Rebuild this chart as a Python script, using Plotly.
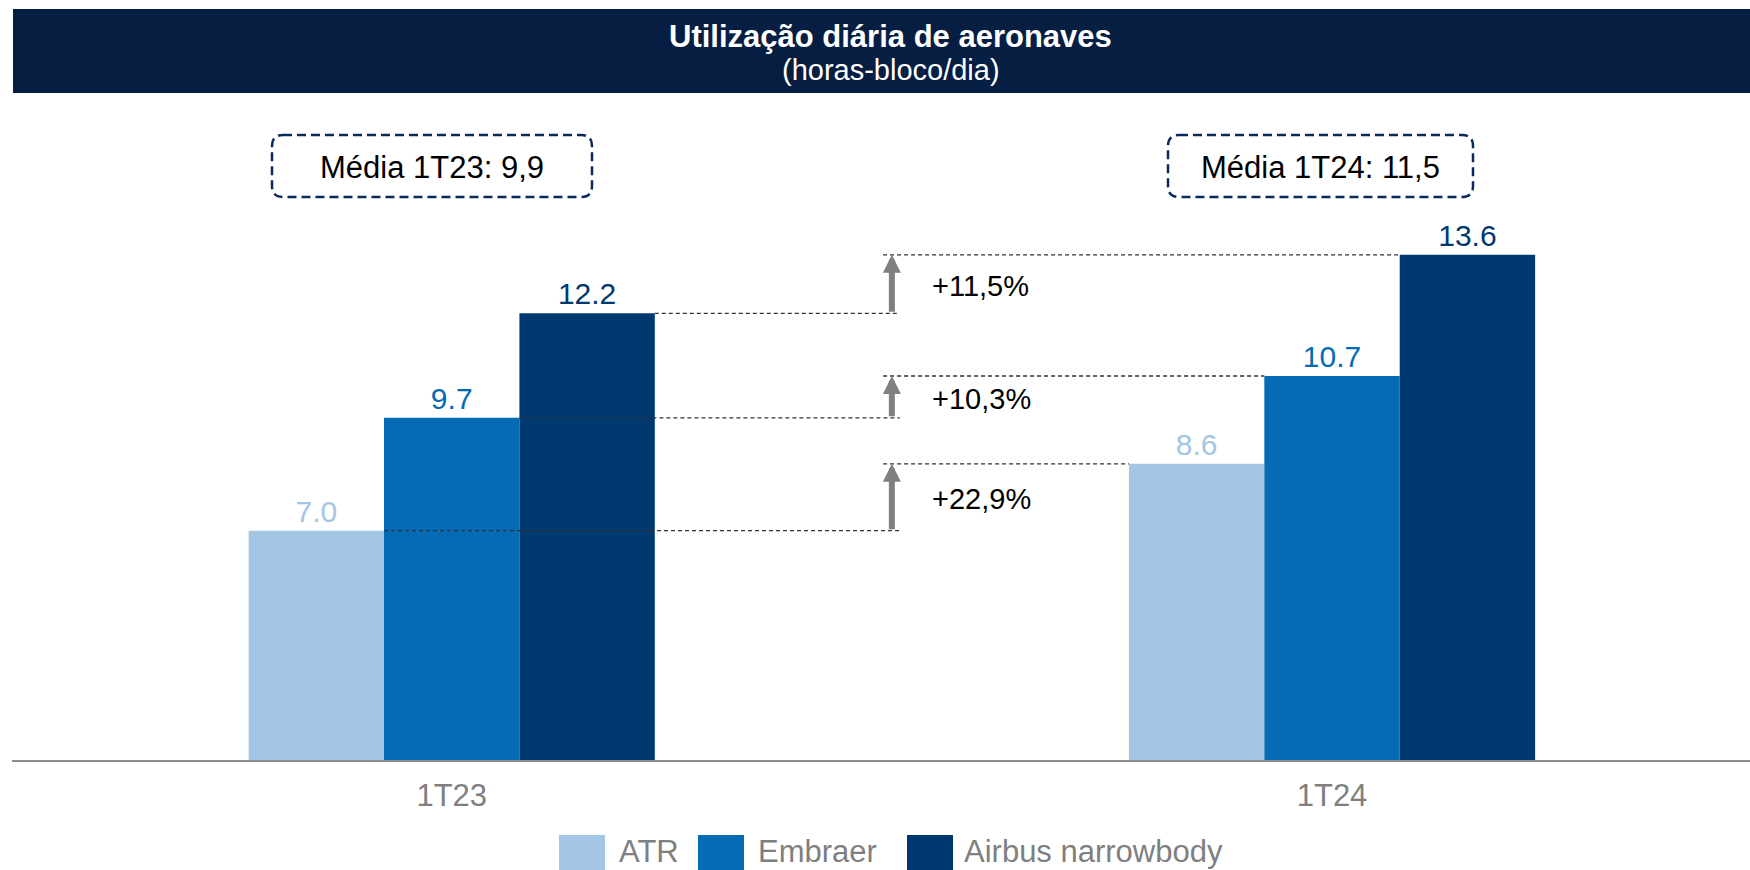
import plotly.graph_objects as go

# ---------------- data ----------------
periods = ["1T23", "1T24"]
series_names = ["ATR", "Embraer", "Airbus narrowbody"]
atr = [7.0, 8.6]
embraer = [9.7, 10.7]
airbus = [12.2, 13.6]
media_labels = ["Média 1T23: 9,9", "Média 1T24: 11,5"]
title_text = "Utilização diária de aeronaves"
subtitle_text = "(horas-bloco/dia)"

colors = ["#A2C6E3", "#056BB4", "#003870"]
series_values = [atr, embraer, airbus]

FONT = "Liberation Sans, Arial, sans-serif"
W, H = 1750, 870
PL, PR, PT, PB = 12, 1750, 100, 760  # plot area in pixels
BAR_W = 0.1538                         # bar width in category units
Y_RANGE = [1.516, 17.302]
X_RANGE = [-0.4995, 1.4748]


def px_x(px):
    return (px - PL) / (PR - PL)


def px_y(py):
    return (PB - py) / (PB - PT)


fig = go.Figure()
for name, vals, col in zip(series_names, series_values, colors):
    fig.add_trace(go.Bar(
        x=periods, y=vals, name=name, marker=dict(color=col, line=dict(width=0)),
        text=[f"{v:.1f}" for v in vals], textposition="outside",
        textfont=dict(family=FONT, size=30, color=col), cliponaxis=False,
        showlegend=False, hoverinfo="skip",
    ))

shapes = []
annotations = []

# header band
shapes.append(dict(type="rect", xref="paper", yref="paper",
                   x0=px_x(13), x1=1, y0=px_y(93), y1=px_y(9),
                   fillcolor="#051E42", line=dict(width=0), layer="below"))
annotations.append(dict(xref="paper", yref="paper", x=px_x(891), y=px_y(36),
                        text="<b>" + title_text + "</b>", showarrow=False,
                        font=dict(family=FONT, size=31, color="white"),
                        xanchor="center", yanchor="middle"))
annotations.append(dict(xref="paper", yref="paper", x=px_x(891), y=px_y(70),
                        text=subtitle_text, showarrow=False,
                        font=dict(family=FONT, size=29, color="white"),
                        xanchor="center", yanchor="middle"))

# média boxes (rounded, dashed)
boxes = [(272, 592), (1168, 1473)]
for (bx0, bx1), lab in zip(boxes, media_labels):
    by0, by1 = 135, 197
    r = 11
    x0, x1 = px_x(bx0), px_x(bx1)
    y0, y1 = px_y(by1), px_y(by0)
    rx = r / (PR - PL)
    ry = r / (PB - PT)
    path = (f"M{x0+rx},{y1} L{x1-rx},{y1} Q{x1},{y1} {x1},{y1-ry} "
            f"L{x1},{y0+ry} Q{x1},{y0} {x1-rx},{y0} L{x0+rx},{y0} "
            f"Q{x0},{y0} {x0},{y0+ry} L{x0},{y1-ry} Q{x0},{y1} {x0+rx},{y1} Z")
    shapes.append(dict(type="path", xref="paper", yref="paper", path=path,
                       line=dict(color="#0B2A5C", width=2.5, dash="9px,5px")))
    annotations.append(dict(xref="paper", yref="paper",
                            x=(x0 + x1) / 2, y=px_y(167.5), text=lab,
                            showarrow=False, xanchor="center", yanchor="middle",
                            font=dict(family=FONT, size=31, color="black")))

# comparison dashed lines, arrows and growth labels
offsets = [-BAR_W, 0.0, BAR_W]  # centre offset of each series inside a group
arrow_x = 0.5
for vals, off in zip(series_values, offsets):
    v0, v1 = vals
    shapes.append(dict(type="line", xref="x", yref="y",
                       x0=0 + off + BAR_W / 2, x1=0.509, y0=v0, y1=v0,
                       line=dict(color="#333333", width=1.3, dash="4px,3px")))
    shapes.append(dict(type="line", xref="x", yref="y",
                       x0=0.490, x1=1 + off - BAR_W / 2, y0=v1, y1=v1,
                       line=dict(color="#333333", width=1.3, dash="4px,3px")))
    annotations.append(dict(xref="x", yref="y", x=arrow_x, y=v1,
                            axref="x", ayref="y", ax=arrow_x, ay=v0, text="",
                            showarrow=True, arrowhead=2, arrowwidth=6,
                            arrowsize=0.6, arrowcolor="#808080", standoff=0,
                            startstandoff=0))
    pct = (v1 / v0 - 1) * 100
    annotations.append(dict(xref="x", yref="y", x=0.5433, y=(v0 + v1) / 2,
                            yshift=-2,
                            text=f"+{pct:.1f}%".replace(".", ","),
                            showarrow=False, xanchor="left", yanchor="middle",
                            font=dict(family=FONT, size=29, color="black")))

# legend (drawn manually to get large swatches)
leg_sq = [559, 698, 907]
leg_tx = [617, 756, 962]
for name, col, sx, tx in zip(series_names, colors, leg_sq, leg_tx):
    shapes.append(dict(type="rect", xref="paper", yref="paper",
                       x0=px_x(sx), x1=px_x(sx + 46), y0=px_y(885), y1=px_y(835),
                       fillcolor=col, line=dict(width=0)))
    annotations.append(dict(xref="paper", yref="paper", x=px_x(tx), y=px_y(851),
                            text=name, showarrow=False, xanchor="left",
                            yanchor="middle",
                            font=dict(family=FONT, size=31, color="#7F7F7F")))

fig.update_layout(
    width=W, height=H,
    margin=dict(l=PL, r=W - PR, t=PT, b=H - PB, pad=0),
    plot_bgcolor="white", paper_bgcolor="white",
    barmode="group", bargap=1 - 3 * BAR_W, bargroupgap=0,
    shapes=shapes, annotations=annotations,
    xaxis=dict(type="category", range=X_RANGE, showgrid=False, zeroline=False,
               showline=True, linecolor="#8C8C8C", linewidth=2, ticks="",
               ticklabelstandoff=7,
               tickfont=dict(family=FONT, size=31, color="#7F7F7F")),
    yaxis=dict(range=Y_RANGE, visible=False, showgrid=False, zeroline=False),
    showlegend=False, hovermode=False,
)

fig.write_html("out.html", config={"displayModeBar": False},
               post_script="document.body.style.margin='0';"
                           "document.body.style.overflow='hidden';")
